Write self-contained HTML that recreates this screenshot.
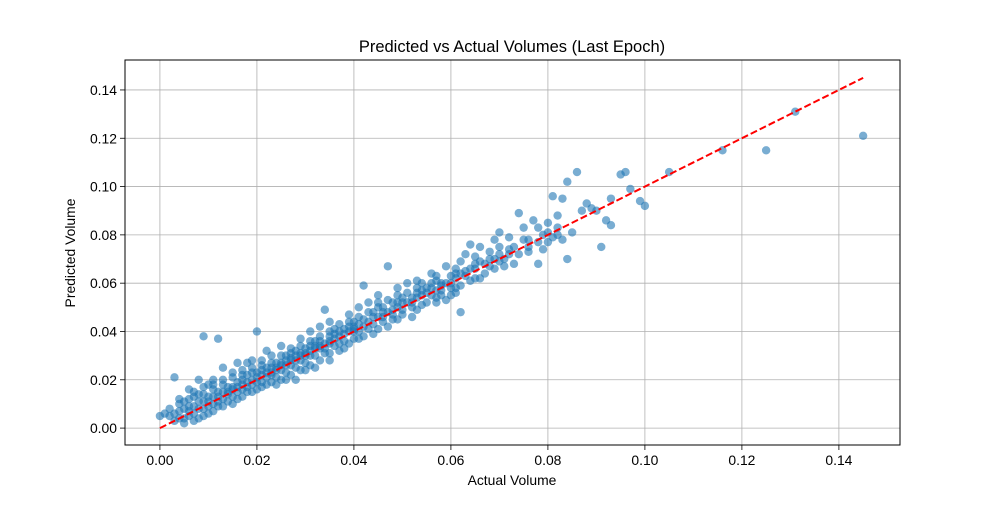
<!DOCTYPE html>
<html><head><meta charset="utf-8"><style>
body{margin:0;background:#fff;}
svg text{font-family:"Liberation Sans","DejaVu Sans",sans-serif;fill:#000;}
</style></head><body>
<svg id="chart" width="1000" height="500" viewBox="0 0 1000 500" xmlns="http://www.w3.org/2000/svg">
<rect width="1000" height="500" fill="#fff"/>
<g id="grid"></g>
<g id="points"></g>
<g id="ref"></g>
<rect x="125" y="60" width="775" height="385" fill="none" stroke="#000" stroke-width="1"/>
<g id="axes"></g>
<text x="512" y="52" font-size="16.5" text-anchor="middle">Predicted vs Actual Volumes (Last Epoch)</text>
<text x="512" y="485" font-size="13.9" text-anchor="middle">Actual Volume</text>
<text x="75" y="253" font-size="13.9" text-anchor="middle" transform="rotate(-90 75 253)">Predicted Volume</text>
</svg>
<script>
const xTicks=[0,0.02,0.04,0.06,0.08,0.10,0.12,0.14];
const yTicks=[0,0.02,0.04,0.06,0.08,0.10,0.12,0.14];
const xTickLabels=["0.00","0.02","0.04","0.06","0.08","0.10","0.12","0.14"];
const yTickLabels=["0.00","0.02","0.04","0.06","0.08","0.10","0.12","0.14"];
const refLine=[0,0.145];
const samples=[
[0.145,0.121],[0.131,0.131],[0.125,0.115],[0.116,0.115],[0.105,0.106],[0.1,0.092],[0.099,0.094],[0.097,0.099],[0.096,0.106],[0.095,0.105],[0.093,0.095],[0.093,0.084],[0.092,0.086],[0.091,0.075],[0.09,0.09],[0.089,0.091],[0.088,0.093],[0.087,0.09],[0.086,0.106],[0.085,0.081],[0.084,0.102],[0.084,0.07],[0.083,0.095],[0.082,0.08],[0.081,0.096],[0.08,0.085],[0.08,0.077],[0.079,0.08],[0.078,0.068],[0.077,0.086],[0.076,0.078],[0.075,0.083],[0.074,0.089],[0.073,0.075],[0.072,0.072],[0.071,0.067],[0.07,0.081],[0.07,0.075],[0.069,0.078],[0.068,0.07],[0.067,0.064],[0.066,0.075],[0.065,0.071],[0.064,0.076],[0.063,0.065],[0.062,0.069],[0.062,0.048],[0.061,0.058],[0.06,0.063],[0.06,0.055],[0.059,0.067],[0.058,0.06],[0.057,0.052],[0.056,0.064],[0.055,0.058],[0.054,0.055],[0.053,0.061],[0.052,0.05],[0.051,0.056],[0.05,0.052],[0.05,0.047],[0.049,0.055],[0.048,0.049],[0.047,0.067],[0.046,0.046],[0.045,0.05],[0.044,0.043],[0.043,0.048],[0.042,0.045],[0.042,0.059],[0.041,0.04],[0.04,0.044],[0.04,0.037],[0.039,0.042],[0.038,0.039],[0.037,0.035],[0.036,0.041],[0.035,0.038],[0.034,0.049],[0.033,0.034],[0.032,0.036],[0.031,0.03],[0.03,0.033],[0.029,0.028],[0.028,0.032],[0.027,0.026],[0.026,0.03],[0.025,0.024],[0.024,0.027],[0.023,0.022],[0.022,0.025],[0.021,0.019],[0.02,0.04],[0.02,0.021],[0.019,0.018],[0.018,0.022],[0.017,0.016],[0.016,0.019],[0.015,0.013],[0.014,0.017],[0.013,0.012],[0.012,0.037],[0.012,0.015],[0.011,0.01],[0.01,0.013],[0.009,0.038],[0.009,0.008],[0.008,0.011],[0.007,0.006],[0.006,0.009],[0.005,0.004],[0.004,0.007],[0.003,0.021],[0.003,0.003],[0.002,0.005],[0.001,0.006],[0.0,0.005],
[0.002,0.008],[0.004,0.012],[0.005,0.002],[0.006,0.016],[0.007,0.013],[0.008,0.004],[0.009,0.017],[0.010,0.006],[0.011,0.02],[0.012,0.009],[0.013,0.025],[0.014,0.011],[0.015,0.021],[0.016,0.012],[0.017,0.024],[0.018,0.015],[0.019,0.028],[0.020,0.016],[0.021,0.026],[0.022,0.018],[0.023,0.03],[0.024,0.021],[0.025,0.034],[0.026,0.023],[0.027,0.033],[0.028,0.025],[0.029,0.037],[0.03,0.027],[0.031,0.04],[0.032,0.03],[0.033,0.042],[0.034,0.031],[0.035,0.044],[0.036,0.034],[0.037,0.043],[0.038,0.033],[0.039,0.047],[0.04,0.041],[0.041,0.05],[0.042,0.038],[0.043,0.052],[0.044,0.039],[0.045,0.055],[0.046,0.044],[0.047,0.053],[0.048,0.045],[0.049,0.058],[0.05,0.049],[0.051,0.06],[0.052,0.046],[0.053,0.056],[0.054,0.06],[0.055,0.052],[0.056,0.058],[0.057,0.061],[0.058,0.055],[0.059,0.053],[0.06,0.06],[0.061,0.066],[0.062,0.059],[0.063,0.072],[0.064,0.061],[0.065,0.068],[0.066,0.062],[0.068,0.073],[0.069,0.066],[0.07,0.072],[0.071,0.07],[0.072,0.079],[0.073,0.068],[0.075,0.078],[0.076,0.073],[0.078,0.083],[0.079,0.074],[0.081,0.079],[0.082,0.088],[0.083,0.078],
[0.006,0.007],[0.008,0.014],[0.01,0.009],[0.012,0.011],[0.014,0.014],[0.016,0.015],[0.018,0.019],[0.02,0.019],[0.021,0.022],[0.022,0.021],[0.023,0.025],[0.024,0.024],[0.025,0.027],[0.026,0.026],[0.027,0.029],[0.028,0.028],[0.029,0.031],[0.03,0.03],[0.031,0.034],[0.032,0.033],[0.033,0.036],[0.034,0.035],[0.035,0.035],[0.036,0.037],[0.038,0.036],[0.04,0.04],[0.011,0.016],[0.013,0.018],[0.015,0.016],[0.017,0.02],[0.019,0.023],[0.01,0.018],[0.008,0.02],[0.006,0.012],[0.004,0.01],[0.016,0.027],[0.018,0.027],[0.022,0.032],[0.024,0.018],[0.026,0.02],[0.028,0.02],[0.03,0.024],[0.032,0.025],[0.035,0.028],[0.044,0.046],[0.046,0.05],[0.048,0.052],[0.052,0.054],[0.054,0.051],[0.056,0.055],[0.058,0.059],[0.047,0.042],[0.043,0.041],
[0.003,0.006],[0.005,0.008],[0.007,0.009],[0.009,0.011],[0.011,0.013],[0.013,0.015],[0.015,0.017],[0.017,0.018],[0.019,0.02],[0.021,0.024],[0.023,0.023],[0.025,0.026],[0.027,0.028],[0.029,0.03],[0.031,0.032],[0.033,0.033],[0.035,0.036],[0.037,0.038],[0.039,0.04],[0.041,0.043],[0.043,0.044],[0.045,0.046],[0.047,0.048],[0.049,0.05],[0.051,0.052],[0.053,0.054],[0.055,0.056],[0.057,0.057],[0.059,0.06],[0.061,0.062],[0.063,0.063],[0.065,0.066],[0.067,0.068],[0.069,0.07],
[0.004,0.004],[0.006,0.005],[0.008,0.008],[0.01,0.011],[0.012,0.013],[0.014,0.015],[0.016,0.017],[0.018,0.017],[0.02,0.023],[0.022,0.023],[0.024,0.025],[0.026,0.028],[0.028,0.03],[0.03,0.031],[0.032,0.034],[0.034,0.033],[0.036,0.039],[0.038,0.041],[0.04,0.042],[0.042,0.042],[0.044,0.048],[0.046,0.048],[0.048,0.047],[0.05,0.054],[0.052,0.052],[0.054,0.057],[0.056,0.06],[0.058,0.057],[0.06,0.058],[0.062,0.064],[0.064,0.066],[0.066,0.069],[0.068,0.067],[0.07,0.069],[0.072,0.074],[0.074,0.072],[0.076,0.075],[0.078,0.077],[0.08,0.081],[0.082,0.083],
[0.007,0.003],[0.009,0.005],[0.011,0.007],[0.013,0.009],[0.015,0.01],[0.017,0.013],[0.019,0.015],[0.021,0.017],[0.023,0.019],[0.025,0.02],[0.027,0.022],[0.029,0.024],[0.031,0.026],[0.033,0.028],[0.035,0.031],[0.037,0.032],[0.039,0.035],[0.041,0.037],[0.045,0.041],[0.049,0.045],[0.053,0.049],[0.057,0.054],[0.061,0.056],[0.065,0.062],
[0.005,0.011],[0.007,0.015],[0.009,0.014],[0.011,0.018],[0.013,0.02],[0.015,0.023],[0.017,0.022],[0.019,0.025],[0.021,0.028],[0.023,0.027],[0.025,0.03],[0.027,0.031],[0.029,0.034],[0.031,0.036],[0.033,0.038],[0.035,0.04],[0.037,0.04],[0.039,0.044],[0.041,0.046],[0.045,0.052],[0.049,0.052],[0.053,0.058],[0.057,0.063],[0.061,0.064]
];
const NS="http://www.w3.org/2000/svg";
const L=125,R=900,T=60,B=445;
const xMin=-0.0072,xMax=0.1526,yMin=-0.0070,yMax=0.1524;
function sx(v){return L+(v-xMin)/(xMax-xMin)*(R-L);}
function sy(v){return B-(v-yMin)/(yMax-yMin)*(B-T);}
function mk(tag,attrs,parent){const e=document.createElementNS(NS,tag);for(const k in attrs)e.setAttribute(k,attrs[k]);parent.appendChild(e);return e;}
const grid=document.getElementById('grid'),axes=document.getElementById('axes'),pts=document.getElementById('points'),ref=document.getElementById('ref');
xTicks.forEach((t,i)=>{
  const x=sx(t);
  const g=mk('line',{x1:x,x2:x,y1:T,y2:B,stroke:'#b0b0b0','stroke-width':0.8},grid);
  
  
  const tk=mk('line',{x1:x,x2:x,y1:B,y2:B+5,stroke:'#000','stroke-width':0.8},axes);
  
  
  const tx=mk('text',{x:x,y:B+20,'font-size':13.9,'text-anchor':'middle'},axes);
  tx.textContent=xTickLabels[i];
  
  
});
yTicks.forEach((t,i)=>{
  const y=sy(t);
  const g=mk('line',{x1:L,x2:R,y1:y,y2:y,stroke:'#b0b0b0','stroke-width':0.8},grid);
  
  
  const tk=mk('line',{x1:L-5,x2:L,y1:y,y2:y,stroke:'#000','stroke-width':0.8},axes);
  
  
  const tx=mk('text',{x:L-8,y:y+5,'font-size':13.9,'text-anchor':'end'},axes);
  tx.textContent=yTickLabels[i];
  
  
});
samples.forEach(p=>{
  const c=mk('circle',{cx:sx(p[0]),cy:sy(p[1]),r:4.2,fill:'#1f77b4','fill-opacity':0.6},pts);
  
  
});
const rl=mk('line',{x1:sx(refLine[0]),y1:sy(refLine[0]),x2:sx(refLine[1]),y2:sy(refLine[1]),stroke:'#ff0000','stroke-width':2,'stroke-dasharray':'7,3'},ref);


</script>
</body></html>
